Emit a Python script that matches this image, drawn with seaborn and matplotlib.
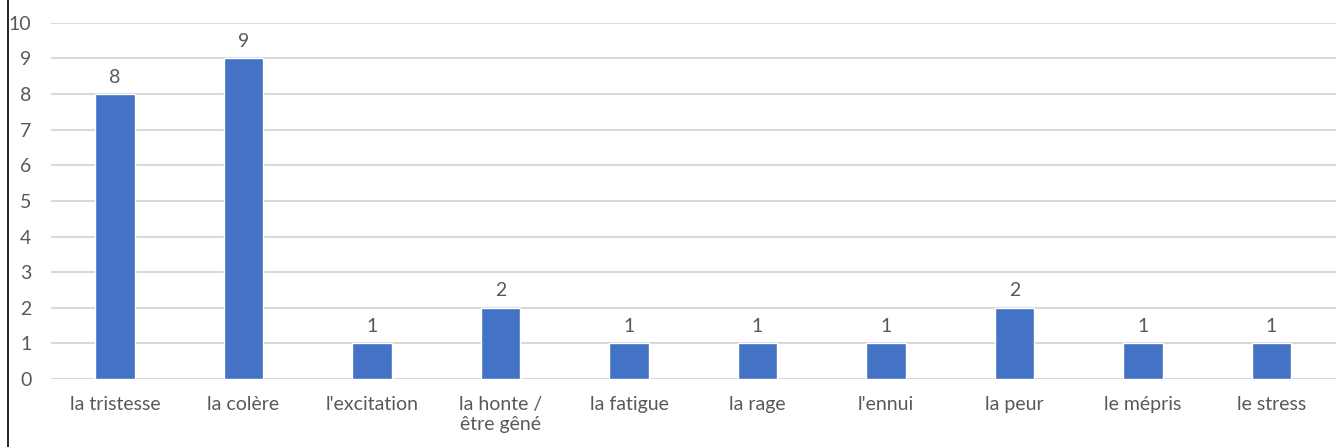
import matplotlib
matplotlib.use("Agg")
import matplotlib.pyplot as plt
import seaborn as sns
import pandas as pd
from matplotlib.lines import Line2D

emotions = ["la tristesse", "la colère", "l'excitation", "la honte /\nêtre gêné",
            "la fatigue", "la rage", "l'ennui", "la peur", "le mépris", "le stress"]
counts = [8, 9, 1, 2, 1, 1, 1, 2, 1, 1]

BLUE = "#4472C4"
TEXT = "#595959"
GRID = "#D9D9D9"

sns.set_theme(style="white")
plt.rcParams['font.family'] = ['Lato', 'DejaVu Sans']

df = pd.DataFrame({"emotion": emotions, "count": counts})

fig = plt.figure(figsize=(13.37, 4.47), dpi=100)
ax = fig.add_axes([0.038, 0.152, 0.961, 0.797])

sns.barplot(data=df, x="emotion", y="count", color=BLUE, width=0.31,
            saturation=1, ax=ax, zorder=3)

for container in ax.containers:
    ax.bar_label(container, padding=6, color=TEXT, fontsize=14)

ax.set_ylim(0, 10)
ax.set_yticks(range(0, 11))
ax.set_xlim(-0.5, len(emotions) - 0.5)
ax.yaxis.grid(True, color=GRID, linewidth=1.5, zorder=0)
ax.set_axisbelow(True)
for side in ["top", "right", "left", "bottom"]:
    ax.spines[side].set_visible(False)
ax.axhline(0, color=GRID, linewidth=1.5, zorder=1)

ax.set_xlabel("")
ax.set_ylabel("")
ax.tick_params(axis="both", length=0, labelsize=14, labelcolor=TEXT)
ax.tick_params(axis="x", pad=12)
ax.tick_params(axis="y", pad=14)

# border line on the left edge of the picture
fig.add_artist(Line2D([0.006, 0.006], [0, 1], color="black", linewidth=1.2,
                      transform=fig.transFigure))

fig.savefig("out.png", dpi=100)
